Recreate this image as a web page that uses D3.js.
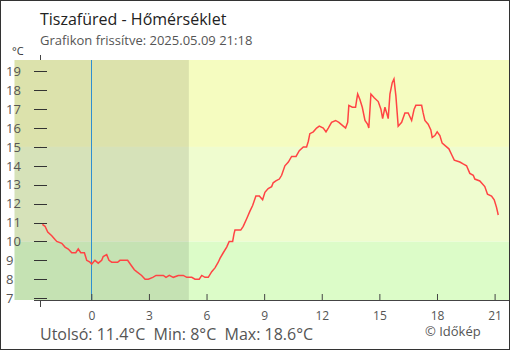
<!DOCTYPE html>
<meta charset="utf-8">
<style>
    body { margin: 0; background: #fff; }
    svg { display: block; font-family: "Open Sans", sans-serif; }
    text { fill: #555; }
    .line { fill: none; stroke: #ff4444; stroke-width: 1.5; }
</style>
<body>
<div id="main"></div>
<script src="https://cdn.jsdelivr.net/npm/d3@7"></script>
<script>
// hours relative to midnight, temperature in °C
var hours = [-2.55,-2.41,-2.27,-2.06,-1.89,-1.80,-1.54,-1.37,-1.20,-1.02,
    -0.81,-0.68,-0.55,-0.36,-0.24,-0.07,0.02,0.19,0.36,0.54,
    0.62,0.80,0.92,1.06,1.37,1.49,1.89,2.10,2.24,2.36,
    2.62,2.80,2.97,3.20,3.37,3.75,3.89,4.06,4.27,4.53,
    4.79,4.97,5.23,5.40,5.62,5.75,5.92,6.09,6.27,6.44,
    6.61,6.70,6.87,7.05,7.18,7.36,7.43,7.48,7.78,7.91,
    8.09,8.26,8.40,8.57,8.75,8.92,9.04,9.21,9.39,9.47,
    9.61,9.79,9.91,10.08,10.26,10.43,10.66,10.83,11.04,11.21,
    11.30,11.38,11.56,11.73,11.87,12.08,12.22,12.34,12.51,12.72,
    12.89,13.12,13.24,13.35,13.41,13.59,13.76,13.82,13.87,13.99,
    14.11,14.25,14.39,14.45,14.56,14.73,14.94,15.08,15.17,15.29,
    15.38,15.46,15.55,15.67,15.76,15.86,15.98,16.16,16.33,16.50,
    16.68,16.81,16.90,17.20,17.28,17.37,17.54,17.68,17.75,17.89,
    18.01,18.15,18.27,18.50,18.62,18.76,18.90,19.19,19.36,19.54,
    19.71,19.89,19.97,20.23,20.49,20.63,20.84,20.98,21.10,21.19];
var temps = [10.9,10.8,10.5,10.3,10.1,10.0,9.9,9.7,9.6,9.4,
    9.4,9.6,9.4,9.4,9.0,8.9,8.8,9.0,8.85,9.0,
    9.2,9.3,9.0,8.9,8.9,9.0,9.0,8.7,8.5,8.4,
    8.2,8.0,8.0,8.1,8.2,8.2,8.1,8.2,8.1,8.2,
    8.2,8.1,8.1,8.0,8.0,8.2,8.1,8.1,8.4,8.6,
    8.9,9.1,9.4,9.7,10.0,10.0,10.4,10.6,10.6,10.8,
    11.2,11.6,11.9,12.4,12.4,12.2,12.6,12.8,12.9,13.1,
    13.2,13.3,13.5,14.0,14.2,14.5,14.5,14.8,15.0,15.0,
    15.3,15.7,15.8,16.0,16.1,16.0,15.8,16.0,16.3,16.4,
    16.3,16.1,16.0,16.3,17.2,17.1,17.1,17.5,17.8,17.5,
    17.1,16.4,16.2,16.0,17.8,17.6,17.4,17.0,16.5,17.1,
    16.8,16.5,17.8,18.4,18.6,17.7,16.1,16.3,16.8,16.8,
    16.4,17.0,17.2,17.2,16.8,16.4,16.2,15.9,15.5,15.6,
    15.8,15.6,15.2,15.0,14.9,14.6,14.3,14.2,14.1,14.0,
    13.6,13.5,13.3,13.2,12.9,12.5,12.4,12.2,11.8,11.4];

var xTicks = [0, 3, 6, 9, 12, 15, 18, 21];
var yTicks = [7, 8, 9, 10, 11, 12, 13, 14, 15, 16, 17, 18, 19];
// temperature bands: lower edge, upper edge, colour
var bandLo = [6.9, 10, 15];
var bandHi = [10, 15, 19.6];
var bandColors = ["#dcfcc8", "#effccf", "#f5fcc0"];
var nightStart = -4, nightEnd = 5.08;

var title = "Tiszafüred - Hőmérséklet";
var subtitle = "Grafikon frissítve: 2025.05.09 21:18";
var footer = "Utolsó: 11.4°C  Min: 8°C  Max: 18.6°C";
var credit = "© Időkép";

var W = 510, H = 350;

var x = d3.scaleLinear().domain([-4, 21.75]).range([14.5, 509]);
var y = d3.scaleLinear().domain([6.9, 19.6]).range([300, 60]);

var svg = d3.select("#main").append("svg")
        .attr("width", W)
        .attr("height", H);

// y axis line sits behind the plot backgrounds
var axisX = 40;
svg.append("line")
        .attr("x1", axisX + 0.5).attr("x2", axisX + 0.5)
        .attr("y1", 55).attr("y2", 307)
        .attr("stroke", "#444");

svg.selectAll("rect.band")
        .data(bandLo)
        .enter().append("rect")
        .attr("class", "band")
        .attr("x", x(-4))
        .attr("width", x(21.75) - x(-4))
        .attr("y", function(d, i) { return y(bandHi[i]); })
        .attr("height", function(d, i) { return y(d) - y(bandHi[i]); })
        .attr("fill", function(d, i) { return bandColors[i]; });

// night shading
svg.append("rect")
        .attr("x", x(nightStart))
        .attr("width", x(nightEnd) - x(nightStart))
        .attr("y", y(19.6))
        .attr("height", y(6.9) - y(19.6))
        .attr("fill", "#000")
        .attr("fill-opacity", 0.1);

// midnight marker
svg.append("line")
        .attr("x1", Math.round(x(0)) + 0.5).attr("x2", Math.round(x(0)) + 0.5)
        .attr("y1", y(19.6)).attr("y2", y(6.9))
        .attr("stroke", "#2f8fd0");

// y ticks and labels
svg.selectAll("line.ytick")
        .data(yTicks)
        .enter().append("line")
        .attr("class", "ytick")
        .attr("x1", axisX - 6).attr("x2", axisX + 7)
        .attr("y1", function(d) { return Math.round(y(d)) + 0.5; })
        .attr("y2", function(d) { return Math.round(y(d)) + 0.5; })
        .attr("stroke", "#333");

svg.selectAll("text.ylab")
        .data(yTicks)
        .enter().append("text")
        .attr("class", "ylab")
        .attr("x", 6)
        .attr("y", function(d) { return y(d); })
        .attr("dy", "0.36em")
        .attr("font-size", 13)
        .text(function(d) { return d; });

// x axis
var xAxis = d3.axisBottom(x)
        .tickValues(xTicks)
        .tickSizeInner(-6)
        .tickSizeOuter(0)
        .tickPadding(11);

var gx = svg.append("g")
        .attr("transform", "translate(0,300)")
        .call(xAxis);
gx.select(".domain").remove();
gx.selectAll(".tick line").attr("stroke", "#444");
gx.selectAll(".tick text")
        .attr("font-family", "Open Sans, sans-serif")
        .attr("font-size", 12)
        .attr("fill", "#555");
svg.append("line")
        .attr("x1", 34).attr("x2", W)
        .attr("y1", 300.5).attr("y2", 300.5)
        .attr("stroke", "#444");

// temperature line
var line = d3.line()
        .x(function(d, i) { return x(hours[i]); })
        .y(function(d) { return y(d); });

svg.append("path")
        .datum(temps)
        .attr("class", "line")
        .attr("d", line);

// texts
svg.append("text")
        .attr("x", 40).attr("y", 25)
        .attr("font-size", 16)
        .style("fill", "#222")
        .text(title);

svg.append("text")
        .attr("x", 40).attr("y", 45)
        .attr("font-size", 13)
        .text(subtitle);

svg.append("text")
        .attr("x", 12).attr("y", 55)
        .attr("font-size", 11)
        .style("fill", "#333")
        .text("°C");

svg.append("text")
        .attr("x", 40).attr("y", 340)
        .attr("font-size", 16)
        .attr("xml:space", "preserve")
        .style("white-space", "pre")
        .text(footer);

svg.append("text")
        .attr("x", 425).attr("y", 336)
        .attr("font-size", 13)
        .text(credit);

// frame
svg.append("rect")
        .attr("x", 0.5).attr("y", 0.5)
        .attr("width", W - 1).attr("height", H - 1)
        .attr("fill", "none")
        .attr("stroke", "#333");
</script>
</body>
